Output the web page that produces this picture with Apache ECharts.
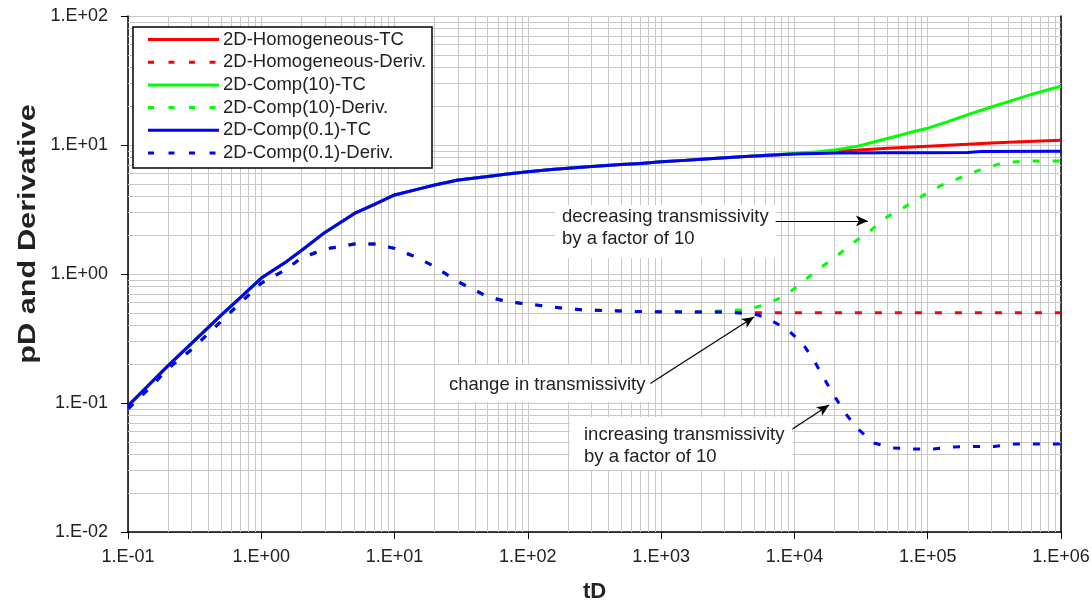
<!DOCTYPE html>
<html><head><meta charset="utf-8">
<script src="https://cdn.jsdelivr.net/npm/echarts@6/dist/echarts.min.js"></script>
<style>html,body{margin:0;padding:0;background:#fff}#c{width:1092px;height:603px}</style>
</head><body><div id="c"></div><script>
// ---- data ----
const xTickLabels = ['1.E-01','1.E+00','1.E+01','1.E+02','1.E+03','1.E+04','1.E+05','1.E+06'];
const yTickLabels = ['1.E-02','1.E-01','1.E+00','1.E+01','1.E+02'];
const seriesNames = ['2D-Homogeneous-TC','2D-Homogeneous-Deriv.','2D-Comp(10)-TC','2D-Comp(10)-Deriv.','2D-Comp(0.1)-TC','2D-Comp(0.1)-Deriv.'];
const seriesColors = ['#ff0000','#ff0000','#00ff00','#00ff00','#0000ff','#0000ff'];

// early time (common to all models)
const tEarly  = [0.1,0.15,0.2,0.3,0.5,0.7,1,1.5,2,3,5,7,10,15,20,30,50,70,100,150,200,300,500,700,1000,1500,2000,3000];
const tcEarly = [0.095,0.145,0.195,0.29,0.48,0.66,0.93,1.22,1.52,2.1,2.95,3.45,4.1,4.55,4.9,5.35,5.7,5.95,6.2,6.45,6.6,6.8,7.05,7.2,7.4,7.6,7.75,7.95];
const dvEarly = [0.09,0.135,0.185,0.26,0.43,0.6,0.85,1.07,1.33,1.56,1.71,1.71,1.58,1.33,1.14,0.87,0.667,0.61,0.585,0.558,0.536,0.525,0.516,0.512,0.51,0.508,0.507,0.507];

// late time per model
const homTcT  = [5000,7000,1e4,2e4,5e4,1e5,2e5,3e5,5e5,1e6];
const homTcV  = [8.2,8.35,8.55,8.9,9.45,9.8,10.15,10.35,10.6,10.9];
const homDvT  = [5000,7000,1e4,1e5,1e6];
const homDvV  = [0.5,0.5,0.5,0.5,0.5];
const c10TcT  = [5000,7000,1e4,1.5e4,2e4,3e4,4e4,6e4,8e4,1e5,1.4e5,2e5,3e5,4.5e5,6e5,8e5,1e6];
const c10TcV  = [8.2,8.4,8.6,8.85,9.15,9.8,10.6,11.8,12.8,13.5,15.1,17.2,19.7,22.5,24.7,26.8,28.6];
const c10DvT  = [4500,6200,8700,11500,15500,20800,27500,36800,49500,67000,91000,128000,181000,255000,367000,518000,731000,1e6];
const c10DvV  = [0.53,0.585,0.687,0.867,1.11,1.38,1.74,2.15,2.77,3.3,4.03,4.9,5.65,6.5,7.25,7.5,7.5,7.5];
const c01TcT  = [5000,7000,1e4,1.5e4,2e4,5e4,1e5,2e5,2.5e5,1e6];
const c01TcV  = [8.2,8.35,8.5,8.6,8.65,8.7,8.7,8.75,8.9,8.95];
const c01DvT  = [5000,6220,8900,11500,14000,16600,20000,24000,30000,39500,54800,78700,110000,157000,226000,316000,447000,1e6];
const c01DvV  = [0.49,0.456,0.37,0.29,0.215,0.156,0.113,0.0835,0.0628,0.049,0.0448,0.044,0.044,0.0456,0.046,0.046,0.048,0.048];

// annotation arrows (data coordinates: tail -> head)
const arrowDecr = [[6550,2.58],[35600,2.58]];
const arrowChg  = [[796,0.138],[4970,0.465]];
const arrowIncr = [[8930,0.0596],[18200,0.0964]];

// ---- build ----
function pairs(t,v){return t.map((x,i)=>[x,v[i]]);}
const early = pairs(tEarly,tcEarly), earlyD = pairs(tEarly,dvEarly);
const seriesData = [
  early.concat(pairs(homTcT,homTcV)),
  earlyD.concat(pairs(homDvT,homDvV)),
  early.concat(pairs(c10TcT,c10TcV)),
  earlyD.slice(0,-1).concat(pairs(c10DvT,c10DvV)),
  early.concat(pairs(c01TcT,c01TcV)),
  earlyD.concat(pairs(c01DvT,c01DvV))
];
const DASH = [7,13];
const LW = 3;
const GRID = '#c8c8c8';
const FONT = 'Arial, "Liberation Sans", sans-serif';
function expOf(v){return Math.round(Math.log10(v));}

// minor grid lines at 2..9 x 10^k
const minorMarks = [];
for (let e=-1;e<6;e++) for (let k=2;k<10;k++) minorMarks.push({xAxis:k*Math.pow(10,e)});
for (let e=-2;e<2;e++) for (let k=2;k<10;k++) minorMarks.push({yAxis:k*Math.pow(10,e)});

const series = seriesNames.map((n,i)=>({
  name:n, type:'line', data:seriesData[i], showSymbol:false, symbol:'none', z:3,
  emphasis:{disabled:true},
  lineStyle:{color:seriesColors[i], width:LW, type:(i%2) ? DASH : 'solid', cap:'butt', join:'round'},
  itemStyle:{color:seriesColors[i]}
}));
series.unshift({
  name:'grid', type:'line', data:[[1,1]], symbol:'none', silent:true, z:1,
  lineStyle:{opacity:0},
  markLine:{silent:true, z:1, symbol:['none','none'], label:{show:false}, animation:false,
    lineStyle:{color:GRID, type:'solid', width:1}, emphasis:{disabled:true}, data:minorMarks}
});
function arrow(a){return [{coord:a[0]},{coord:a[1]}];}
series.push({
  name:'arrows', type:'line', data:[[1,1]], symbol:'none', silent:true, z:10,
  lineStyle:{opacity:0},
  markLine:{silent:true, z:10, symbol:['none','arrow'], symbolSize:[8,12], label:{show:false}, animation:false,
    lineStyle:{color:'#000', type:'solid', width:1.2}, emphasis:{disabled:true},
    data:[arrow(arrowDecr),arrow(arrowChg),arrow(arrowIncr)]}
});

// legend drawn as graphic elements (box, line samples, texts)
const legendEls = [{type:'rect', x:133, y:27, z:30, silent:true, shape:{x:0,y:0,width:299,height:141},
  style:{fill:'#fff', stroke:'#000', lineWidth:1.5}}];
seriesNames.forEach((n,i)=>{
  const cy = 39.5 + i*22.7;
  legendEls.push({type:'line', x:0, y:0, z:31, silent:true, shape:{x1:148,y1:cy,x2:219,y2:cy},
    style:{stroke:seriesColors[i], lineWidth:LW, lineDash:(i%2)?[6,14.5]:null, lineCap:'butt'}});
  legendEls.push({type:'text', x:223, y:cy-10.5, z:32, silent:true,
    style:{text:n, font:'18.5px '+FONT, fill:'#222', lineHeight:21, verticalAlign:'top', align:'left'}});
});

const chart = echarts.init(document.getElementById('c'), null, {renderer:'canvas'});
chart.setOption({
  animation:false,
  backgroundColor:'#fff',
  textStyle:{fontFamily:FONT},
  grid:{left:128, right:31, top:16, bottom:71, containLabel:false, outerBoundsMode:'none'},
  xAxis:{
    type:'log', logBase:10, min:0.1, max:1e6, interval:1,
    axisLine:{show:true, onZero:false, lineStyle:{color:'#000', width:1.5}},
    axisTick:{show:true, length:7, inside:false, lineStyle:{color:'#000', width:1}},
    axisLabel:{fontSize:18, color:'#222', margin:16, fontFamily:FONT,
      formatter:v=>xTickLabels[expOf(v)+1]},
    splitLine:{show:true, lineStyle:{color:GRID, width:1}},
    name:'tD', nameLocation:'middle', nameGap:49,
    nameTextStyle:{fontSize:22, fontWeight:'bold', color:'#222', fontFamily:FONT}
  },
  yAxis:[{
    type:'log', logBase:10, min:0.01, max:100, interval:1,
    axisLine:{show:true, onZero:false, lineStyle:{color:'#000', width:1.5}},
    axisTick:{show:true, length:7, inside:false, lineStyle:{color:'#000', width:1}},
    axisLabel:{fontSize:18, color:'#222', margin:20, fontFamily:FONT,
      formatter:v=>yTickLabels[expOf(v)+2]},
    splitLine:{show:true, lineStyle:{color:GRID, width:1}}
  },{
    type:'log', logBase:10, min:0.01, max:100, position:'right',
    axisLine:{show:true, lineStyle:{color:'#000', width:1.5}},
    axisTick:{show:false}, axisLabel:{show:false}, splitLine:{show:false}
  }],
  series:series,
  graphic:legendEls.concat([
    {type:'text', x:28, y:234, rotation:Math.PI/2, scaleX:1.28, z:20, silent:true,
     style:{text:'pD and Derivative', font:'bold 24px '+FONT, fill:'#222', align:'center', verticalAlign:'middle'}},
    {type:'text', x:555, y:205, z:20, silent:true,
     style:{text:'decreasing transmissivity\nby a factor of 10', font:'18.5px '+FONT, fill:'#222',
       lineHeight:22, backgroundColor:'#fff', padding:[1,7,8,7], verticalAlign:'top'}},
    {type:'text', x:437, y:365, z:20, silent:true,
     style:{text:'change in transmissivity', font:'18.5px '+FONT, fill:'#222',
       lineHeight:22, backgroundColor:'#fff', padding:[9,5,6,12], verticalAlign:'top'}},
    {type:'text', x:570, y:417, z:20, silent:true,
     style:{text:'increasing transmissivity\nby a factor of 10', font:'18.5px '+FONT, fill:'#222',
       lineHeight:22, backgroundColor:'#fff', padding:[7,8,2,14], verticalAlign:'top'}}
  ])
});
</script></body></html>
